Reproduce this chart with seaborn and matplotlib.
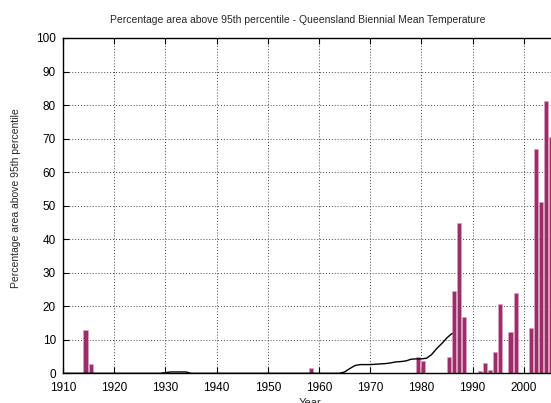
import numpy as np
import pandas as pd
import matplotlib
matplotlib.use("Agg")
import matplotlib.pyplot as plt
import seaborn as sns

# Biennial percentage of Queensland area above the 95th percentile (years with non-zero area)
bar_years = [1914, 1915, 1958, 1979, 1980, 1985, 1986, 1987, 1988, 1991, 1992,
             1993, 1994, 1995, 1997, 1998, 2001, 2002, 2003, 2004, 2005]
bar_values = [12.9, 2.9, 1.6, 4.9, 3.8, 4.8, 24.6, 44.9, 16.8, 0.6, 3.1,
              1.1, 6.5, 20.7, 12.4, 23.9, 13.5, 67.0, 51.0, 81.3, 70.5]

# Smoothed trend, one value per year from 1910 to 1986
line_years = list(range(1910, 1987))
line_values = ([0.0] * 20                               # 1910-1929
               + [0.2, 0.4, 0.4, 0.4, 0.4, 0.0]          # 1930-1935
               + [0.0] * 29                              # 1936-1964
               + [0.4, 1.4, 2.3, 2.6, 2.6, 2.6, 2.7, 2.8, 2.9, 3.1, 3.4,
                  3.5, 3.7, 4.2, 4.3, 4.3, 4.5, 5.6, 7.4, 8.9, 10.6, 11.9])  # 1965-1986

x_ticks = list(range(1910, 2010, 10))
y_ticks = list(range(0, 101, 10))

sns.set_style("ticks")
plt.rcParams["font.family"] = ["Liberation Sans", "DejaVu Sans"]

W, H = 551, 403
fig = plt.figure(figsize=(W / 100, H / 100), dpi=100)
ax = fig.add_axes([63 / W, 29.7 / H, 512 / W, 335.3 / H])

# Bars start at the first year of each two-year window
bars = pd.DataFrame({"year": np.array(bar_years) + 0.4, "pct": bar_values})
sns.barplot(data=bars, x="year", y="pct", native_scale=True, width=0.8,
            color="#9c2d68", saturation=1, edgecolor="#d8a2c0", linewidth=0.5,
            ax=ax, zorder=2)

sns.lineplot(x=line_years, y=line_values, color="black", linewidth=1.0,
             ax=ax, zorder=3)

ax.set_xlim(1910, 2010)
ax.set_ylim(0, 100)
ax.set_xticks(x_ticks)
ax.set_yticks(y_ticks)
ax.set_xticklabels([str(t) for t in x_ticks], fontsize=8.5)
ax.set_yticklabels([str(t) for t in y_ticks], fontsize=8.5)

ax.grid(True, color="#444444", linestyle=(0, (1, 2)), linewidth=0.7, zorder=0)
ax.set_axisbelow(True)

for side in ["left", "bottom", "top", "right"]:
    ax.spines[side].set_visible(True)
    ax.spines[side].set_color("black")
    ax.spines[side].set_linewidth(1.0)

ax.tick_params(axis="both", direction="in", length=4, width=0.8, colors="black",
               top=True, right=False)
ax.tick_params(axis="x", pad=6)
ax.tick_params(axis="y", pad=5)
ax.set_xlabel("")
ax.set_ylabel("")

fig.text(298 / W, 1 - 20 / H,
         "Percentage area above 95th percentile - Queensland Biennial Mean Temperature",
         fontsize=7.5, ha="center", va="center")
fig.text(16.5 / W, 1 - 198 / H, "Percentage area above 95th percentile",
         fontsize=7.5, rotation=90, ha="center", va="center")
fig.text(310 / W, 1 - 398.5 / H, "Year", fontsize=8, ha="center", va="top")

fig.savefig("out.png", dpi=100)
